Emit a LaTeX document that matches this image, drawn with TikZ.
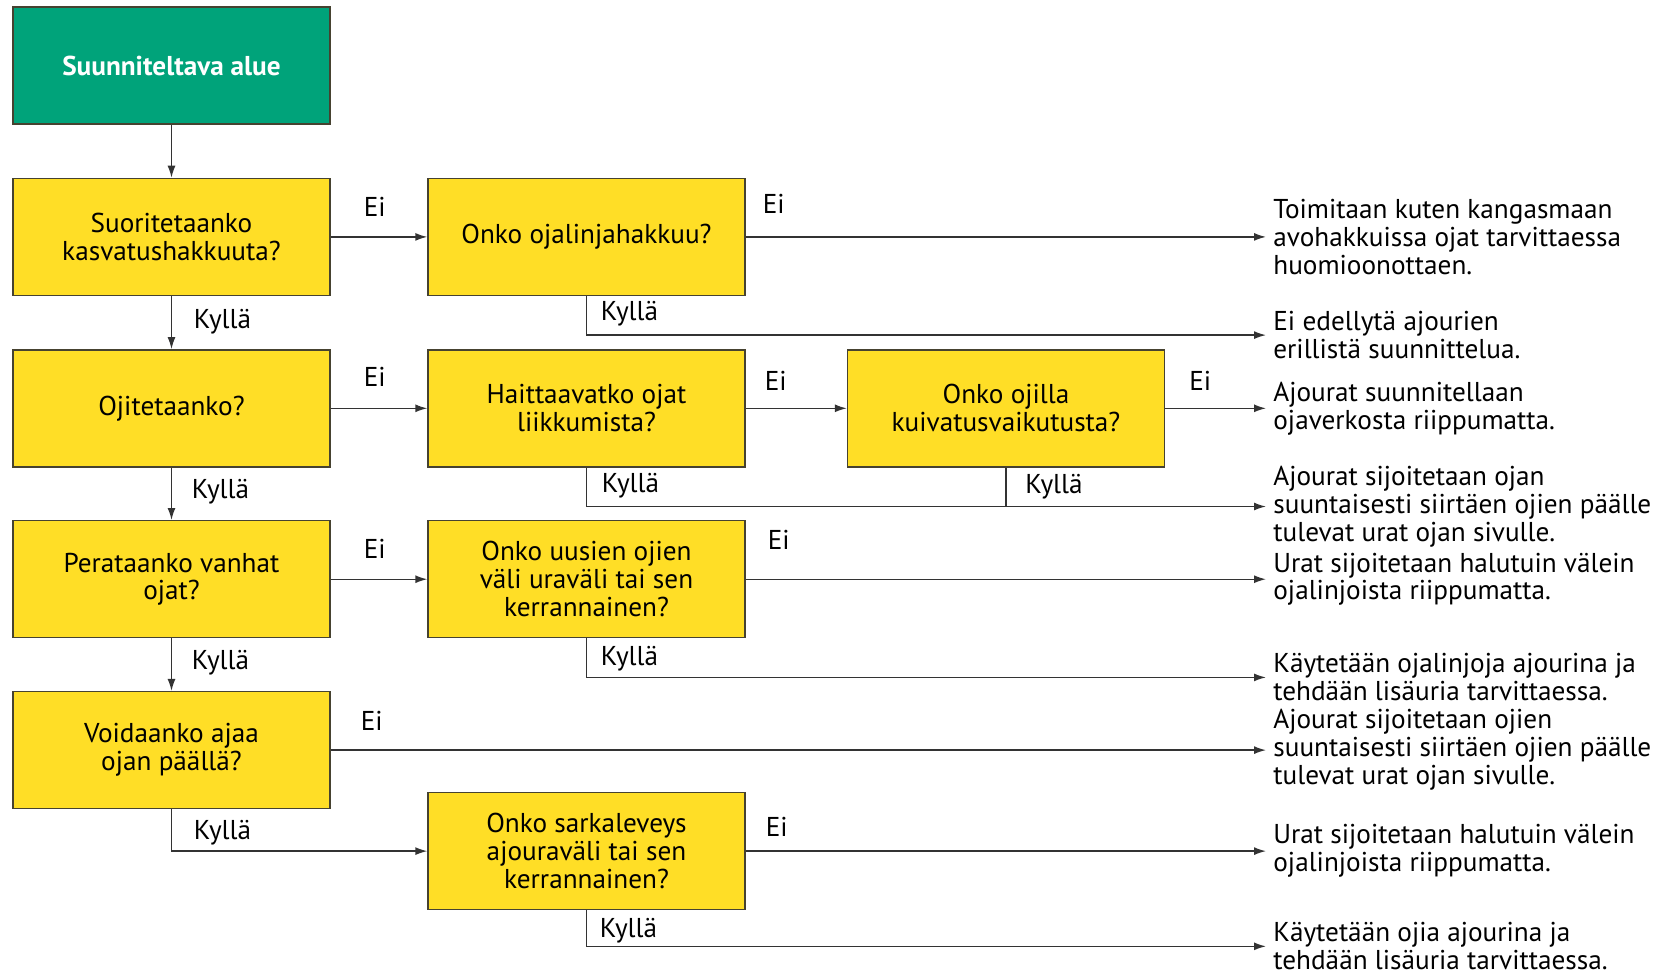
\documentclass[tikz,border=0pt]{standalone}
\usepackage{fontspec}
\setmainfont{PT Sans}
\usetikzlibrary{
  positioning,
  arrows.meta,
  calc
}
\definecolor{startbg}{RGB}{0,163,122}
\definecolor{questionbg}{RGB}{255,222,38}
\definecolor{boxborder}{RGB}{70,66,48}

\begin{document}
\begin{tikzpicture}[
  font=\fontsize{15.5pt}{15.9pt}\selectfont,
  >={Latex[length=2.4mm,width=1.6mm]},
  question/.style={
    rectangle,
    draw=boxborder,
    fill=questionbg,
    line width=0.8pt,
    minimum height=2.34cm,
    minimum width=6.34cm,
    align=center
  },
  startbox/.style={
    question,
    fill=startbg,
    text=white,
    font=\fontsize{15.5pt}{15.9pt}\selectfont\bfseries
  },
  outcome/.style={
    anchor=west,
    align=left,
    inner xsep=4pt,
    inner ysep=0pt
  },
  answer/.style={
    inner sep=1pt
  },
  flowline/.style={
    line width=0.8pt,
    black!80
  },
  flow/.style={
    ->,
    flowline
  }
]
\useasboundingbox (0,0) rectangle (33.3,-19.52);

% ------------------------------------------------------------------
% Column anchors
% ------------------------------------------------------------------
\coordinate (col1) at (3.43,0);
\coordinate (col2) at (11.73,0);
\coordinate (col3) at (20.12,0);
\coordinate (outcol) at (25.32,0);

% ------------------------------------------------------------------
% Main column
% ------------------------------------------------------------------
\node[startbox] (alue) at ($(col1)+(0,-1.31)$) {Suunniteltava alue};
\node[question, below=1.06cm of alue] (kasvatus)
  {Suoritetaanko\\ kasvatushakkuuta?};
\node[question, below=1.06cm of kasvatus] (ojitus) {Ojitetaanko?};
\node[question, below=1.05cm of ojitus] (perkaus)
  {Perataanko vanhat\\ ojat?};
\node[question, below=1.05cm of perkaus] (ajo)
  {Voidaanko ajaa\\ ojan päällä?};

% ------------------------------------------------------------------
% Second and third column
% ------------------------------------------------------------------
\node[question] (linjahakkuu) at (col2 |- kasvatus) {Onko ojalinjahakkuu?};
\node[question] (haitta) at (col2 |- ojitus)
  {Haittaavatko ojat\\ liikkumista?};
\node[question] (uudet) at (col2 |- perkaus)
  {Onko uusien ojien\\ väli uraväli tai sen\\ kerrannainen?};
\node[question] (sarka) at ($(col2 |- ajo)+(0,-2.02)$)
  {Onko sarkaleveys\\ ajouraväli tai sen\\ kerrannainen?};
\node[question] (kuivatus) at (col3 |- ojitus)
  {Onko ojilla\\ kuivatusvaikutusta?};

% Kyllä routing levels
\coordinate (k1) at ($(linjahakkuu.south)+(0,-0.78)$);
\coordinate (k2) at ($(haitta.south)+(0,-0.78)$);
\coordinate (k3) at ($(uudet.south)+(0,-0.78)$);
\coordinate (k4) at ($(sarka.south)+(0,-0.72)$);

% ------------------------------------------------------------------
% Outcomes
% ------------------------------------------------------------------
\node[outcome] (avohakkuu) at (outcol |- linjahakkuu)
  {Toimitaan kuten kangasmaan\\ avohakkuissa ojat tarvittaessa\\ huomioonottaen.};
\node[outcome] (erillinen) at (outcol |- k1)
  {Ei edellytä ajourien\\ erillistä suunnittelua.};
\node[outcome] (ojaverkko) at (outcol |- kuivatus)
  {Ajourat suunnitellaan\\ ojaverkosta riippumatta.};
\node[outcome] (sivulle1) at (outcol |- k2)
  {Ajourat sijoitetaan ojan\\ suuntaisesti siirtäen ojien päälle\\ tulevat urat ojan sivulle.};
\node[outcome] (valein1) at (outcol |- uudet)
  {Urat sijoitetaan halutuin välein\\ ojalinjoista riippumatta.};
\node[outcome] (lisauria1) at (outcol |- k3)
  {Käytetään ojalinjoja ajourina ja\\ tehdään lisäuria tarvittaessa.};
\node[outcome] (sivulle2) at (outcol |- ajo)
  {Ajourat sijoitetaan ojien\\ suuntaisesti siirtäen ojien päälle\\ tulevat urat ojan sivulle.};
\node[outcome] (valein2) at (outcol |- sarka)
  {Urat sijoitetaan halutuin välein\\ ojalinjoista riippumatta.};
\node[outcome] (lisauria2) at (outcol |- k4)
  {Käytetään ojia ajourina ja\\ tehdään lisäuria tarvittaessa.};

% ------------------------------------------------------------------
% Connectors
% ------------------------------------------------------------------
\draw[flow] (alue) -- (kasvatus);
\draw[flow] (kasvatus) -- (ojitus);
\draw[flow] (ojitus) -- (perkaus);
\draw[flow] (perkaus) -- (ajo);

\draw[flow] (kasvatus) -- (linjahakkuu);
\draw[flow] (linjahakkuu) -- (avohakkuu);
\draw[flow] (linjahakkuu.south) |- (erillinen);

\draw[flow] (ojitus) -- (haitta);
\draw[flow] (haitta) -- (kuivatus);
\draw[flow] (kuivatus) -- (ojaverkko);
\draw[flow] (haitta.south) |- (sivulle1);
\draw[flowline] (kuivatus.south) -- (kuivatus.south |- k2);

\draw[flow] (perkaus) -- (uudet);
\draw[flow] (uudet) -- (valein1);
\draw[flow] (uudet.south) |- (lisauria1);

\draw[flow] (ajo) -- (sivulle2);
\draw[flow] (ajo.south) |- (sarka);
\draw[flow] (sarka) -- (valein2);
\draw[flow] (sarka.south) |- (lisauria2);

% ------------------------------------------------------------------
% Answer labels
% ------------------------------------------------------------------
\node[answer] (ei1) at ($(kasvatus.east)+(0.88,0.6)$) {Ei};
\node[answer] (ky1) at ($(kasvatus.south)+(1.02,-0.52)$) {Kyllä};
\node[answer] (ei2) at ($(linjahakkuu.east)+(0.56,0.66)$) {Ei};
\node[answer] (ky2) at ($(linjahakkuu.south)+(0.86,-0.36)$) {Kyllä};
\node[answer] (ei3) at ($(ojitus.east)+(0.88,0.62)$) {Ei};
\node[answer] (ky3) at ($(ojitus.south)+(0.98,-0.48)$) {Kyllä};
\node[answer] (ei4) at ($(haitta.east)+(0.6,0.54)$) {Ei};
\node[answer] (ky4) at ($(haitta.south)+(0.88,-0.36)$) {Kyllä};
\node[answer] (ei5) at ($(kuivatus.east)+(0.7,0.54)$) {Ei};
\node[answer] (ky5) at ($(kuivatus.south)+(0.96,-0.38)$) {Kyllä};
\node[answer] (ei6) at ($(perkaus.east)+(0.88,0.6)$) {Ei};
\node[answer] (ky6) at ($(perkaus.south)+(0.98,-0.48)$) {Kyllä};
\node[answer] (ei7) at ($(uudet.east)+(0.66,0.78)$) {Ei};
\node[answer] (ky7) at ($(uudet.south)+(0.86,-0.4)$) {Kyllä};
\node[answer] (ei8) at ($(ajo.east)+(0.82,0.58)$) {Ei};
\node[answer] (ky8) at ($(ajo.south)+(1.02,-0.46)$) {Kyllä};
\node[answer] (ei9) at ($(sarka.east)+(0.62,0.48)$) {Ei};
\node[answer] (ky9) at ($(sarka.south)+(0.84,-0.4)$) {Kyllä};

\end{tikzpicture}
\end{document}
